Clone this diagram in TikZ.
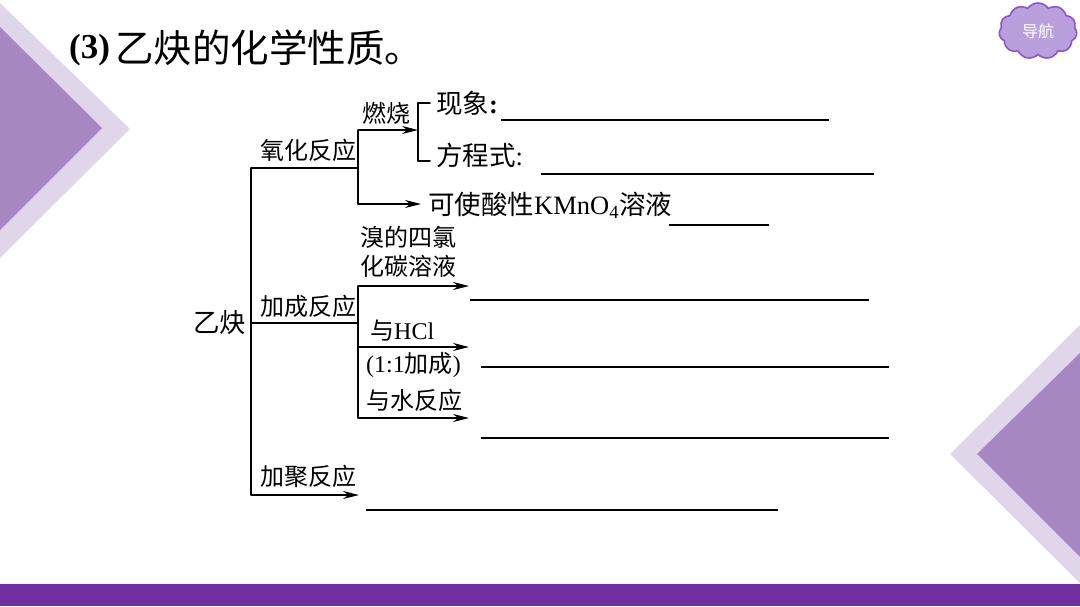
\documentclass[tikz,border=0pt]{standalone}
\usepackage{fontspec}
\setmainfont{Liberation Serif}
\newfontfamily\cjk{Noto Sans CJK SC}
\usetikzlibrary{shapes.symbols, arrows.meta, positioning}
\definecolor{barpurple}{HTML}{7030A0}
\definecolor{darktri}{HTML}{A687C1}
\definecolor{lighttri}{HTML}{E0D6EA}
\definecolor{cloudfill}{HTML}{B9A0DC}
\definecolor{cloudline}{HTML}{8E55C8}
\tikzstyle{lbl} = [inner sep=0pt, anchor=west, font=\fontsize{24}{29}\selectfont\cjk]
\tikzstyle{biglbl} = [inner sep=0pt, anchor=west, font=\fontsize{26.5}{30}\selectfont\cjk]
\tikzstyle{arrow} = [line width=1.6pt,-{Stealth[length=16pt,width=8pt]}]
\tikzstyle{wire} = [line width=1.6pt, line cap=round, line join=round]
\tikzstyle{blank} = [line width=2pt]

\begin{document}
\begin{tikzpicture}[x=1pt,y=-1pt]
	\useasboundingbox (0,0) rectangle (1080,606);
	% background shapes
	\fill [lighttri] (0,3) -- (130,129) -- (0,258) -- cycle;
	\fill [darktri] (0,27) -- (102,128) -- (0,230) -- cycle;
	\fill [lighttri] (1080,325) -- (950,454) -- (1080,583) -- cycle;
	\fill [darktri] (1080,353) -- (977,454) -- (1080,557) -- cycle;
	\fill [barpurple] (0,584) rectangle (1080,606);
	\node (nav) [cloud, cloud puffs=11, cloud puff arc=110, aspect=1.45, draw=cloudline, line width=1.6pt, fill=cloudfill, minimum width=78pt, minimum height=56pt, inner sep=0pt, text=white, font=\fontsize{16}{18}\selectfont\cjk] at (1038,31) {导航};

	% title
	\node (num) [inner sep=0pt, anchor=west, font=\fontsize{35}{40}\selectfont\bfseries] at (69,50) {(3)};
	\node (title) [inner sep=0pt, anchor=west, font=\fontsize{38.5}{44}\selectfont\cjk] at (115,48) {乙炔的化学性质。};

	% labels
	\node (yq) [biglbl] at (193,323) {乙炔};
	\node (oxi) [lbl] at (260,150) {氧化反应};
	\node (burn) [lbl] at (362,113) {燃烧};
	\node (look) [biglbl] at (436,103) {现象\rmfamily\bfseries:};
	\node (eqn) [biglbl] at (436,155) {方程式\rmfamily:};
	\node (kmno) [biglbl] at (428,205) {可使酸性\rmfamily KMnO\textsubscript{4}\cjk 溶液};
	\node (brom) [lbl, align=left] at (360,252) {溴的四氯\\化碳溶液};
	\node (add) [lbl] at (260,306) {加成反应};
	\node (hcl) [lbl] at (370,331) {与\rmfamily HCl};
	\node (ratio) [lbl] at (366,365) {\rmfamily (1:1\cjk 加成\rmfamily )};
	\node (water) [lbl] at (366,400) {与水反应};
	\node (poly) [lbl] at (260,476) {加聚反应};

	% junctions
	\coordinate (trunktop) at (251,168);
	\coordinate (trunkmid) at (251,323);
	\coordinate (trunkend) at (251,495);
	\coordinate (oxijoin) at (358,168);
	\coordinate (oxitop) at (358,130);
	\coordinate (oxibot) at (358,204);
	\coordinate (addjoin) at (358,323);
	\coordinate (addtop) at (358,286);
	\coordinate (addmid) at (358,347);
	\coordinate (addbot) at (358,418);
	\coordinate (bracetop) at (430,103);
	\coordinate (bracebot) at (430,161);
	\coordinate (bracemid) at (418,130);
	\coordinate (kmnotip) at (421,204);
	\coordinate (bromtip) at (469,286);
	\coordinate (hcltip) at (469,347);
	\coordinate (watertip) at (469,418);
	\coordinate (polytip) at (359,495);

	% connectors
	\draw [wire] (oxijoin) -- (trunktop) -- (trunkend);
	\draw [wire] (trunkmid) -- (addjoin);
	\draw [wire] (oxitop) -- (oxibot);
	\draw [wire] (addtop) -- (addbot);
	\draw [wire] (bracetop) -| (bracemid) |- (bracebot);
	\draw [arrow] (oxitop) -- (bracemid);
	\draw [arrow] (oxibot) -- (kmnotip);
	\draw [arrow] (addtop) -- (bromtip);
	\draw [arrow] (addmid) -- (hcltip);
	\draw [arrow] (addbot) -- (watertip);
	\draw [arrow] (trunkend) -- (polytip);

	% blanks
	\draw [blank] (501,120) coordinate (a1) -- (829,120) coordinate (a2);
	\draw [blank] (541,174) coordinate (b1) -- (874,174) coordinate (b2);
	\draw [blank] (669,225) coordinate (c1) -- (769,225) coordinate (c2);
	\draw [blank] (470,300) coordinate (d1) -- (869,300) coordinate (d2);
	\draw [blank] (481,367) coordinate (e1) -- (889,367) coordinate (e2);
	\draw [blank] (481,438) coordinate (f1) -- (889,438) coordinate (f2);
	\draw [blank] (366,510) coordinate (g1) -- (778,510) coordinate (g2);
\end{tikzpicture}
\end{document}
